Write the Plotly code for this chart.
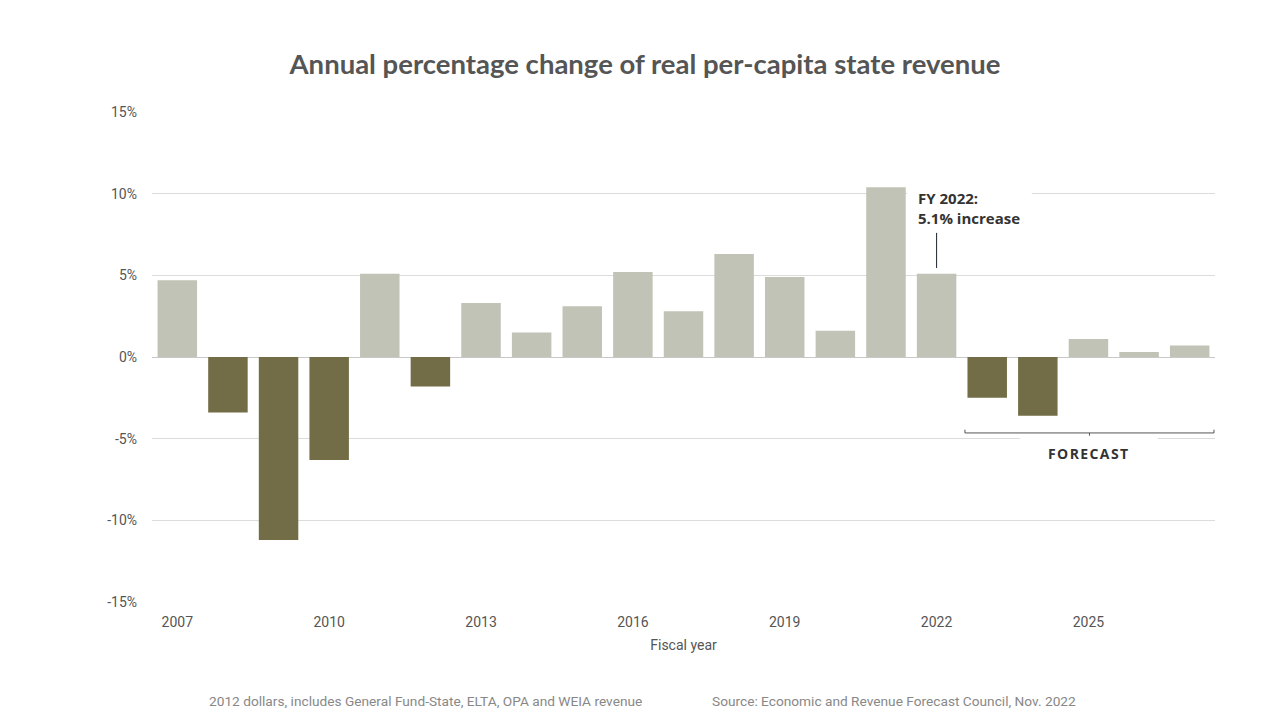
import plotly.graph_objects as go

years = list(range(2007, 2028))
values = [4.7, -3.4, -11.2, -6.3, 5.1, -1.8, 3.3, 1.5, 3.1, 5.2, 2.8,
          6.3, 4.9, 1.6, 10.4, 5.1, -2.5, -3.6, 1.1, 0.3, 0.7]
tick_years = [2007, 2010, 2013, 2016, 2019, 2022, 2025]
tick_vals = [15, 10, 5, 0, -5, -10, -15]
tick_text = ["15%", "10%", "5%", "0%", "-5%", "-10%", "-15%"]

LIGHT = "#c0c3b5"
DARK = "#726d46"
colors = [LIGHT if v >= 0 else DARK for v in values]

# page is rendered with an 8px body margin; compensate
OFF = 8
W, H = 1280, 720
pl, pr, pt, pb = 152 - OFF, 65 + OFF, 112 - OFF, 118 + OFF
pw, ph = W - pl - pr, H - pt - pb


def px_x(x):
    return (x - OFF - pl) / pw


def px_y(y):
    return (H - pb - (y - OFF)) / ph


fig = go.Figure(go.Bar(
    x=years, y=values, marker=dict(color=colors, line=dict(width=0)),
    width=0.78, hoverinfo="x+y",
))

shapes = [
    dict(type="rect", xref="x", yref="y", x0=2021.42, x1=2023.88, y0=9.85, y1=10.15,
         fillcolor="white", line=dict(width=0), layer="above"),
    dict(type="rect", xref="x", yref="y", x0=2023.65, x1=2026.37, y0=-4.9, y1=-5.15,
         fillcolor="white", line=dict(width=0), layer="above"),
    dict(type="line", xref="x", yref="y", x0=2022, x1=2022, y0=5.45, y1=7.6,
         line=dict(color="#1a2330", width=1)),
    dict(type="line", xref="x", yref="y", x0=2022.56, x1=2027.48, y0=-4.65, y1=-4.65,
         line=dict(color="#555", width=1)),
    dict(type="line", xref="x", yref="y", x0=2022.56, x1=2022.56, y0=-4.65, y1=-4.45,
         line=dict(color="#555", width=1)),
    dict(type="line", xref="x", yref="y", x0=2027.48, x1=2027.48, y0=-4.65, y1=-4.45,
         line=dict(color="#555", width=1)),
    dict(type="line", xref="x", yref="y", x0=2025.02, x1=2025.02, y0=-4.65, y1=-4.82,
         line=dict(color="#555", width=1)),
]

annotations = [
    dict(x=2021.6, y=9.15, xref="x", yref="y", xanchor="left", yanchor="middle",
         text="<b>FY 2022:<br>5.1% increase</b>", showarrow=False, align="left",
         font=dict(family="Open Sans", size=15, color="#333")),
    dict(x=2025.0, y=-5.9, xref="x", yref="y", xanchor="center", yanchor="middle",
         text="<b>F O R E C A S T</b>".replace(" ", "\u200a"), showarrow=False,
         font=dict(family="Open Sans", size=14, color="#333")),
    dict(x=px_x(425), y=px_y(701), xref="paper", yref="paper", xanchor="center", yanchor="middle",
         text="2012 dollars, includes General Fund-State, ELTA, OPA and WEIA revenue",
         showarrow=False, font=dict(family="Roboto", size=13.7, color="#888")),
    dict(x=px_x(710), y=px_y(701), xref="paper", yref="paper", xanchor="left", yanchor="middle",
         text="Source: Economic and Revenue Forecast Council, Nov. 2022",
         showarrow=False, font=dict(family="Roboto", size=13.7, color="#888")),
]

fig.update_layout(
    width=W, height=H,
    margin=dict(l=pl, r=pr, t=pt, b=pb),
    plot_bgcolor="white", paper_bgcolor="white",
    title=dict(text="<b>Annual percentage change of real per-capita state revenue</b>",
               x=(645 - OFF) / W, xanchor="center", y=1 - (64 - OFF) / H, yanchor="middle",
               font=dict(family="Lato", size=27.5, color="#555")),
    xaxis=dict(range=[2006.5, 2027.5], tickmode="array", tickvals=tick_years,
               ticktext=[str(t) for t in tick_years], showgrid=False, zeroline=False,
               showline=False, ticks="", tickfont=dict(family="Roboto", size=14, color="#555"),
               ticklabelstandoff=10,
               title=dict(text="Fiscal year", font=dict(family="Roboto", size=14, color="#555"), standoff=11)),
    yaxis=dict(range=[-15, 15], tickmode="array", tickvals=tick_vals, ticktext=tick_text,
               showgrid=True, gridcolor="#dcdcdc", gridwidth=1, zeroline=True,
               zerolinecolor="#c8c8c8", zerolinewidth=1, showline=False, ticks="",
               ticklabelstandoff=14,
               tickfont=dict(family="Roboto", size=14, color="#555")),
    shapes=shapes, annotations=annotations, showlegend=False, bargap=0.2,
)

fig.write_html("out.html")
